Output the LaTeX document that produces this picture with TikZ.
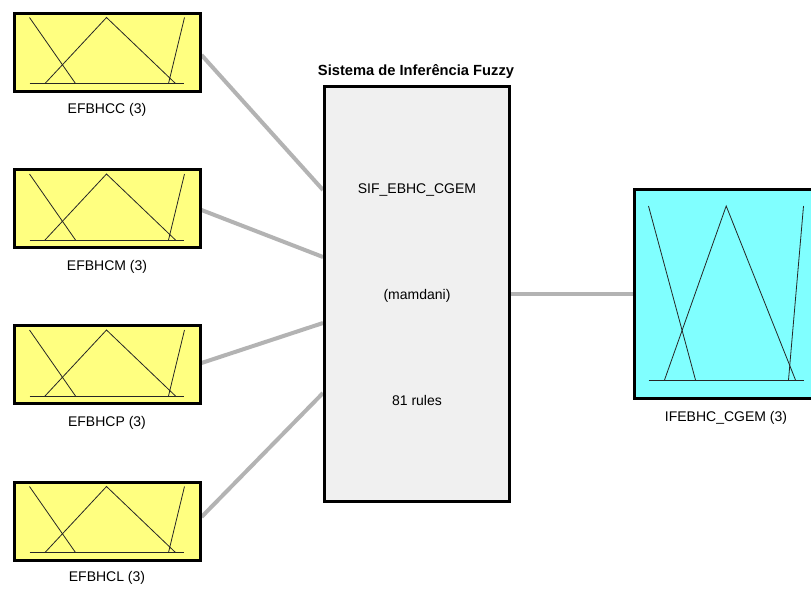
\documentclass[tikz,border=0pt]{standalone}
\usepackage{fontspec}
\setmainfont{Liberation Sans}
\definecolor{mfyellow}{HTML}{FFFF80}
\definecolor{mfcyan}{HTML}{80FFFF}
\definecolor{sifgray}{HTML}{F0F0F0}
\definecolor{linkgray}{HTML}{B3B3B3}
\tikzset{
  varbox/.style={draw=black, line width=3pt, fill=mfyellow, minimum width=186pt, minimum height=78pt, inner sep=0pt},
  outbox/.style={draw=black, line width=3pt, fill=mfcyan, minimum width=186pt, minimum height=209pt, inner sep=0pt},
  sifbox/.style={draw=black, line width=3pt, fill=sifgray, minimum width=185pt, minimum height=415pt, inner sep=0pt},
  lbl/.style={font=\fontsize{14pt}{16pt}\selectfont, inner sep=0pt},
  ttl/.style={font=\fontsize{14.7pt}{16pt}\selectfont\bfseries, inner sep=0pt},
  link/.style={draw=linkgray, line width=4pt},
  mfline/.style={line width=0.8pt, draw=black!85}
}
\newcommand{\mfinput}[1]{%
  \begin{scope}[shift={(#1.north west)}]
    \draw[mfline] (17,72) -- (171,72);
    \draw[mfline] (17,6) -- (63,72);
    \draw[mfline] (32.5,72) -- (94,6) -- (163,72);
    \draw[mfline] (156,72) -- (172,6);
  \end{scope}}
\begin{document}
\begin{tikzpicture}[x=1pt, y=-1pt]
\useasboundingbox (0,0) rectangle (811,589);
\clip (0,0) rectangle (811,589);
\fill[white] (0,0) rectangle (811,589);
% input boxes
\node[varbox] (in1) at (107,52) {};
\node[varbox] (in2) at (107,208.5) {};
\node[varbox] (in3) at (107,364.5) {};
\node[varbox] (in4) at (107,521) {};
\node[lbl] (l1) at (107,110) {EFBHCC (3)};
\node[lbl] (l2) at (107,267) {EFBHCM (3)};
\node[lbl] (l3) at (107,423) {EFBHCP (3)};
\node[lbl] (l4) at (107,578) {EFBHCL (3)};
% central system
\node[sifbox] (sif) at (417,294) {};
\node[ttl] (title) at (416,72) {Sistema de Inferência Fuzzy};
\node[lbl] (name) at (417,190) {SIF\_EBHC\_CGEM};
\node[lbl] (type) at (417,296) {(mamdani)};
\node[lbl] (rules) at (417,400) {81 rules};
% output box
\node[outbox] (out) at (727,294) {};
\node[lbl] (lo) at (726,418) {IFEBHC\_CGEM (3)};
% connectors (yshift is in page direction: positive = up)
\draw[link] ([yshift=-3pt]in1.east) -- ([yshift=104pt]sif.west);
\draw[link] ([yshift=-1.5pt]in2.east) -- ([yshift=37pt]sif.west);
\draw[link] ([yshift=1.5pt]in3.east) -- ([yshift=-29pt]sif.west);
\draw[link] ([yshift=4pt]in4.east) -- ([yshift=-99pt]sif.west);
\draw[link] (sif.east) -- (out.west);
% redraw box borders over connector ends
\node[varbox, fill=none] at (in1) {};
\node[varbox, fill=none] at (in2) {};
\node[varbox, fill=none] at (in3) {};
\node[varbox, fill=none] at (in4) {};
\node[sifbox, fill=none] at (sif) {};
\node[outbox, fill=none] at (out) {};
% membership functions
\mfinput{in1}
\mfinput{in2}
\mfinput{in3}
\mfinput{in4}
\begin{scope}[shift={(out.north west)}]
  \draw[mfline] (16,192) -- (171,192);
  \draw[mfline] (16,18) -- (63,192);
  \draw[mfline] (32,192) -- (93.7,18) -- (163,192);
  \draw[mfline] (156,192) -- (171,18);
\end{scope}
\end{tikzpicture}
\end{document}
